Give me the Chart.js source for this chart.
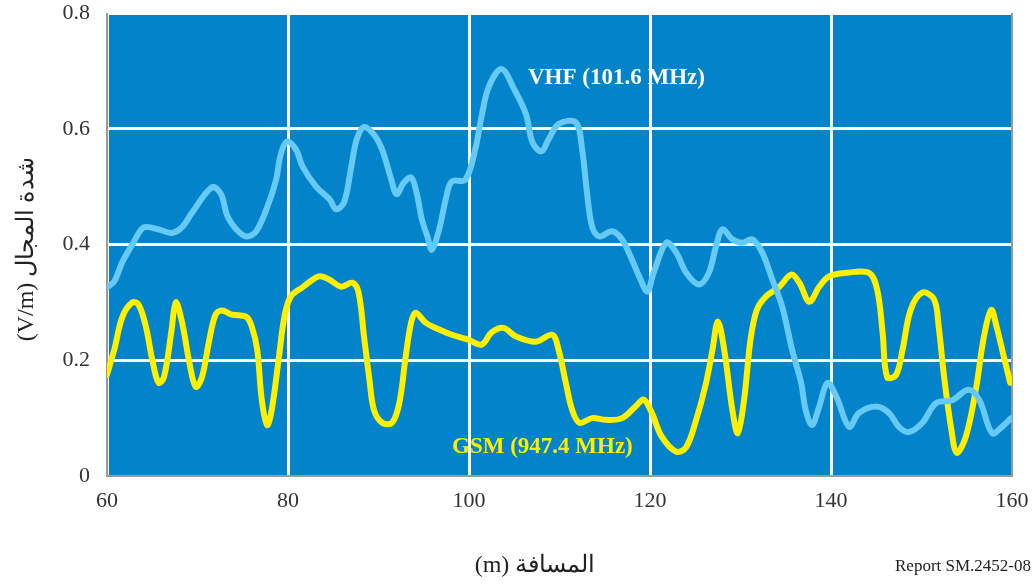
<!DOCTYPE html>
<html>
<head>
<meta charset="utf-8">
<script src="https://cdn.jsdelivr.net/npm/chart.js@4"></script>
<style>
  html, body { margin: 0; padding: 0; background: #fff; }
  #wrap { width: 1033px; height: 585px; }
</style>
</head>
<body>
<div id="wrap"><canvas id="fieldChart" width="1033" height="585"></canvas></div>
<script>
// distance (m) and field strength (V/m)
const vhfX = [60, 60.8, 61.7, 62.8, 63.9, 64.6, 66.1, 67.2, 68.3, 69.4, 71.6, 72.6, 73.3, 74.3, 75.4, 76.5, 77.9, 78.7, 79.2, 79.9,
  80.9, 81.6, 83.1, 84.6, 85.3, 86.2, 87.0, 87.6, 88.4, 89.5, 90.4, 91.4, 92.0, 92.8, 93.6, 94.2, 94.8, 95.4, 95.9, 96.7,
  97.5, 98.1, 99.6, 100.7, 101.4, 102.2, 103.6, 105.0, 106.3, 107.0, 108.0, 108.8, 109.9, 111.8, 112.5, 113.0, 113.6, 114.4, 115.8, 116.9,
  118.0, 118.8, 119.7, 120.4, 121.8, 122.9, 124.0, 125.4, 126.5, 127.3, 128.0, 129.1, 130.2, 131.3, 132.4, 133.5, 134.6, 135.7, 136.7, 137.2,
  137.9, 138.7, 139.6, 140.6, 142.0, 143.1, 145.0, 146.4, 147.5, 148.6, 150.1, 151.6, 153.4, 155.2, 156.4, 157.8, 158.9, 159.9];
const vhfY = [0.326, 0.336, 0.37, 0.40, 0.428, 0.43, 0.424, 0.42, 0.43, 0.455, 0.499, 0.487, 0.449, 0.426, 0.414, 0.423, 0.473, 0.513, 0.556, 0.578,
  0.564, 0.535, 0.50, 0.478, 0.461, 0.473, 0.535, 0.582, 0.603, 0.59, 0.564, 0.513, 0.487, 0.507, 0.516, 0.49, 0.443, 0.414, 0.391, 0.426,
  0.483, 0.509, 0.512, 0.565, 0.622, 0.673, 0.703, 0.668, 0.625, 0.577, 0.561, 0.582, 0.608, 0.611, 0.564, 0.495, 0.431, 0.414, 0.423, 0.409,
  0.374, 0.345, 0.319, 0.351, 0.403, 0.386, 0.351, 0.331, 0.351, 0.397, 0.426, 0.409, 0.403, 0.409, 0.386, 0.34, 0.293, 0.218, 0.161, 0.114,
  0.088, 0.12, 0.161, 0.137, 0.085, 0.109, 0.12, 0.109, 0.085, 0.076, 0.092, 0.126, 0.131, 0.149, 0.131, 0.074, 0.085, 0.10];

const gsmX = [60, 60.8, 61.7, 62.8, 63.5, 64.3, 65.0, 65.7, 66.3, 67.1, 67.6, 68.3, 69.1, 69.8, 70.5, 71.3, 72.0, 72.7, 73.8, 75.4,
  76.0, 76.6, 77.1, 77.7, 78.2, 79.0, 79.6, 80.3, 81.6, 83.4, 84.5, 85.9, 87.1, 87.8, 88.4, 89.0, 89.5, 90.4, 91.5, 92.3,
  93.0, 93.6, 94.1, 95.2, 96.7, 98.1, 100.0, 101.4, 102.5, 103.8, 105.2, 107.4, 109.2, 109.9, 110.7, 111.4, 112.2, 113.6, 115.1, 116.9,
  118.4, 119.3, 120.2, 121.3, 122.9, 124.0, 125.1, 126.2, 126.9, 127.5, 128.2, 129.1, 129.7, 130.4, 131.1, 131.8, 132.8, 134.3, 135.6, 136.5,
  137.6, 138.7, 139.8, 141.7, 144.2, 145.1, 145.7, 146.2, 147.2, 147.9, 148.8, 150.1, 151.4, 151.9, 152.5, 153.3, 153.9, 154.9, 156.0, 156.9,
  157.7, 158.3, 159.1, 159.8];
const gsmY = [0.175, 0.218, 0.275, 0.30, 0.296, 0.258, 0.201, 0.161, 0.171, 0.248, 0.30, 0.265, 0.196, 0.154, 0.171, 0.235, 0.279, 0.286, 0.279, 0.275,
  0.258, 0.218, 0.132, 0.088, 0.114, 0.206, 0.275, 0.31, 0.326, 0.345, 0.34, 0.327, 0.334, 0.317, 0.241, 0.166, 0.114, 0.092, 0.092, 0.126,
  0.206, 0.265, 0.282, 0.265, 0.253, 0.244, 0.235, 0.227, 0.248, 0.256, 0.241, 0.232, 0.244, 0.218, 0.161, 0.114, 0.092, 0.10, 0.097, 0.10,
  0.12, 0.132, 0.109, 0.068, 0.042, 0.05, 0.097, 0.161, 0.218, 0.267, 0.218, 0.114, 0.074, 0.132, 0.235, 0.287, 0.31, 0.327, 0.348, 0.334,
  0.301, 0.327, 0.345, 0.351, 0.351, 0.322, 0.248, 0.171, 0.175, 0.218, 0.287, 0.317, 0.305, 0.258, 0.171, 0.08, 0.04, 0.068, 0.149, 0.241,
  0.287, 0.258, 0.206, 0.161];

const xTicks = [60, 80, 100, 120, 140, 160];
const yTicks = [0, 0.2, 0.4, 0.6, 0.8];

const serif = "'Liberation Serif', 'DejaVu Serif', serif";

const toPoints = (xs, ys) => xs.map((x, i) => ({ x: x, y: ys[i] }));

// keep tick labels from pushing the plot area inwards
const noPad = s => {
  s.paddingTop = 0;
  s.paddingBottom = 0;
  s.paddingLeft = 0;
  s.paddingRight = 0;
};

/* ================= BLUE PLOT AREA + TEXT ================= */
const figurePlugin = {
  id: "figure",
  beforeDraw(chart) {
    const { ctx, chartArea: a } = chart;
    ctx.save();
    ctx.fillStyle = "#0383ca";
    ctx.fillRect(a.left, a.top, a.right - a.left, a.bottom - a.top);
    ctx.restore();
  },
  beforeDatasetsDraw(chart) {
    const { ctx, chartArea: a } = chart;
    ctx.save();
    ctx.strokeStyle = "#9a9a9a";
    ctx.lineWidth = 2;
    ctx.beginPath();
    ctx.moveTo(a.left, a.top);
    ctx.lineTo(a.left, a.bottom);
    ctx.lineTo(a.right, a.bottom);
    ctx.lineTo(a.right, a.top);
    ctx.stroke();
    ctx.restore();
  },
  afterDraw(chart) {
    const { ctx } = chart;
    ctx.save();
    ctx.textBaseline = "middle";

    ctx.font = "bold 23px " + serif;
    ctx.fillStyle = "#ffffff";
    ctx.textAlign = "left";
    ctx.fillText("VHF (101.6 MHz)", 528, 78);
    ctx.fillStyle = "#ffee00";
    ctx.fillText("GSM (947.4 MHz)", 452, 447);

    ctx.fillStyle = "#222";
    ctx.font = "24px " + serif;
    ctx.textAlign = "center";
    ctx.fillText("(m) المسافة", 535, 566);

    ctx.save();
    ctx.translate(27, 249);
    ctx.rotate(-Math.PI / 2);
    ctx.fillText("(V/m) شدة المجال", 0, 0);
    ctx.restore();

    ctx.font = "17px " + serif;
    ctx.textAlign = "right";
    ctx.fillText("Report SM.2452-08", 1031, 567);
    ctx.restore();
  }
};

new Chart(document.getElementById("fieldChart"), {
  type: "line",
  data: {
    datasets: [
      {
        label: "VHF (101.6 MHz)",
        data: toPoints(vhfX, vhfY),
        borderColor: "#66caf4",
        borderWidth: 6,
        pointRadius: 0,
        tension: 0.35,
        borderCapStyle: "round",
        borderJoinStyle: "round"
      },
      {
        label: "GSM (947.4 MHz)",
        data: toPoints(gsmX, gsmY),
        borderColor: "#fff000",
        borderWidth: 6,
        pointRadius: 0,
        tension: 0.35,
        borderCapStyle: "round",
        borderJoinStyle: "round"
      }
    ]
  },
  options: {
    responsive: false,
    animation: false,
    devicePixelRatio: 1,
    layout: { padding: { top: 13, right: 21, left: 0, bottom: 0 } },
    plugins: { legend: { display: false }, tooltip: { enabled: false } },
    scales: {
      x: {
        type: "linear",
        min: 60,
        max: 160,
        afterBuildTicks: s => { s.ticks = xTicks.map(v => ({ value: v })); },
        afterFit: s => { s.height = 109; noPad(s); },
        grid: { color: "#ffffff", lineWidth: 3, drawTicks: false },
        border: { display: false },
        ticks: { padding: 12, color: "#333", font: { family: serif, size: 22 } }
      },
      y: {
        min: 0,
        max: 0.8,
        afterBuildTicks: s => { s.ticks = yTicks.map(v => ({ value: v })); },
        afterFit: s => { s.width = 107; noPad(s); },
        grid: { color: "#ffffff", lineWidth: 3, drawTicks: false },
        border: { display: false },
        ticks: {
          padding: 17,
          color: "#333",
          font: { family: serif, size: 22 },
          callback: v => (v === 0 ? "0" : v.toFixed(1))
        }
      }
    }
  },
  plugins: [figurePlugin]
});
</script>
</body>
</html>
